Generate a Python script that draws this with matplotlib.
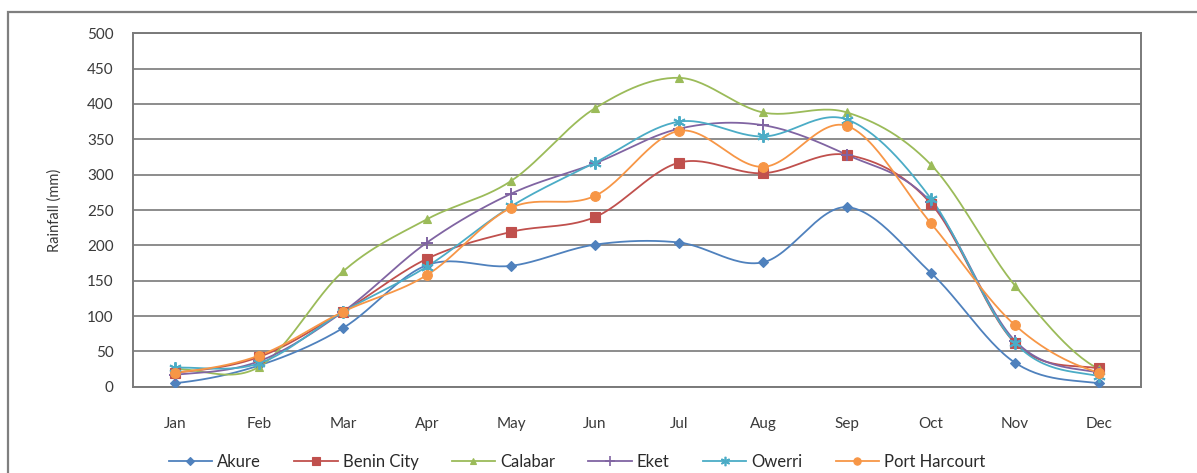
import numpy as np
import matplotlib
matplotlib.use("Agg")
import matplotlib.pyplot as plt
from matplotlib.patches import Rectangle
from matplotlib.lines import Line2D

months = ["Jan", "Feb", "Mar", "Apr", "May", "Jun",
          "Jul", "Aug", "Sep", "Oct", "Nov", "Dec"]

akure = [5, 30, 83, 172, 171, 201, 204, 176, 254, 161, 34, 5]
benin_city = [20, 42, 106, 181, 219, 240, 317, 302, 328, 259, 62, 26]
calabar = [25, 28, 163, 237, 291, 394, 437, 388, 388, 314, 143, 25]
eket = [17, 36, 106, 204, 273, 316, 365, 370, 328, 261, 65, 20]
owerri = [27, 33, 106, 170, 255, 317, 375, 354, 378, 266, 62, 15]
port_harcourt = [20, 44, 106, 158, 253, 270, 362, 311, 369, 231, 87, 20]

stations = ["Akure", "Benin City", "Calabar", "Eket", "Owerri", "Port Harcourt"]
series = [akure, benin_city, calabar, eket, owerri, port_harcourt]
colors = ["#4F81BD", "#C0504D", "#9BBB59", "#8064A2", "#4BACC6", "#F79646"]
asterisk = (6, 2, 0)
markers = ["D", "s", "^", "+", asterisk, "o"]
msizes = [5, 7, 6, 9, 9, 7]
thin = [False, False, False, True, True, False]

plt.rcParams["font.family"] = ["Lato", "DejaVu Sans"]


def smooth(x, y, n=30):
    """Catmull-Rom style smoothing through every point (spreadsheet 'smoothed line')."""
    x = np.asarray(x, float)
    y = np.asarray(y, float)
    px = np.concatenate([[2 * x[0] - x[1]], x, [2 * x[-1] - x[-2]]])
    py = np.concatenate([[y[0]], y, [y[-1]]])
    xs, ys = [], []
    for i in range(1, len(px) - 2):
        p0, p1, p2, p3 = (np.array([px[j], py[j]]) for j in (i - 1, i, i + 1, i + 2))
        c1 = p1 + (p2 - p0) / 6.0
        c2 = p2 - (p3 - p1) / 6.0
        t = np.linspace(0, 1, n)[:, None]
        b = ((1 - t) ** 3) * p1 + 3 * ((1 - t) ** 2) * t * c1 + 3 * (1 - t) * t ** 2 * c2 + t ** 3 * p2
        xs.append(b[:, 0])
        ys.append(b[:, 1])
    return np.concatenate(xs), np.concatenate(ys)


W, H = 1197, 473
fig = plt.figure(figsize=(W / 100, H / 100), dpi=100)
fig.patch.set_facecolor("white")

# outer chart frame
fig.add_artist(Rectangle((8 / W, -0.2), 1.5, 1.2 - 12 / H, transform=fig.transFigure,
                         fill=False, edgecolor="#7f7f7f", linewidth=1.6))

ax = fig.add_axes([133 / W, 1 - 386.7 / H, (1141 - 133) / W, (386.7 - 33.3) / H])
x = np.arange(len(months))

for name, vals, c, m, ms, th in zip(stations, series, colors, markers, msizes, thin):
    sx, sy = smooth(x, vals)
    ax.plot(sx, sy, color=c, linewidth=1.3, zorder=3)
    ax.plot(x, vals, linestyle="none", marker=m, markersize=ms, color=c,
            markeredgecolor=c, markeredgewidth=1.4 if th else 0.8, zorder=4)

ax.set_xlim(-0.5, len(months) - 0.5)
ax.set_ylim(0, 500)
ax.set_yticks(np.arange(0, 501, 50))
ax.set_xticks(x)
ax.set_xticklabels(months)
ax.yaxis.grid(True, color="#8c8c8c", linewidth=1.4)
ax.set_axisbelow(True)
for s in ax.spines.values():
    s.set_color("#7a7a7a")
    s.set_linewidth(1.4)
ax.tick_params(axis="both", length=0, labelsize=11, colors="#3a3a3a")
ax.tick_params(axis="x", pad=22)
ax.tick_params(axis="y", pad=14)
ax.set_ylabel("Rainfall (mm)", fontsize=10.5, color="#3a3a3a", labelpad=18)

handles = [Line2D([0], [0], color=c, marker=m, markersize=ms * 0.75, linewidth=1.3,
                  markeredgewidth=1.2 if th else 0.8)
           for c, m, ms, th in zip(colors, markers, msizes, thin)]
fig.legend(handles, stations, loc="center", bbox_to_anchor=(577 / W, 1 - 462 / H),
           ncol=6, frameon=False, fontsize=12, handlelength=2.6, columnspacing=2.0,
           handletextpad=0.3, labelcolor="#2a2a2a")

fig.savefig("out.png", dpi=100, facecolor="white")
